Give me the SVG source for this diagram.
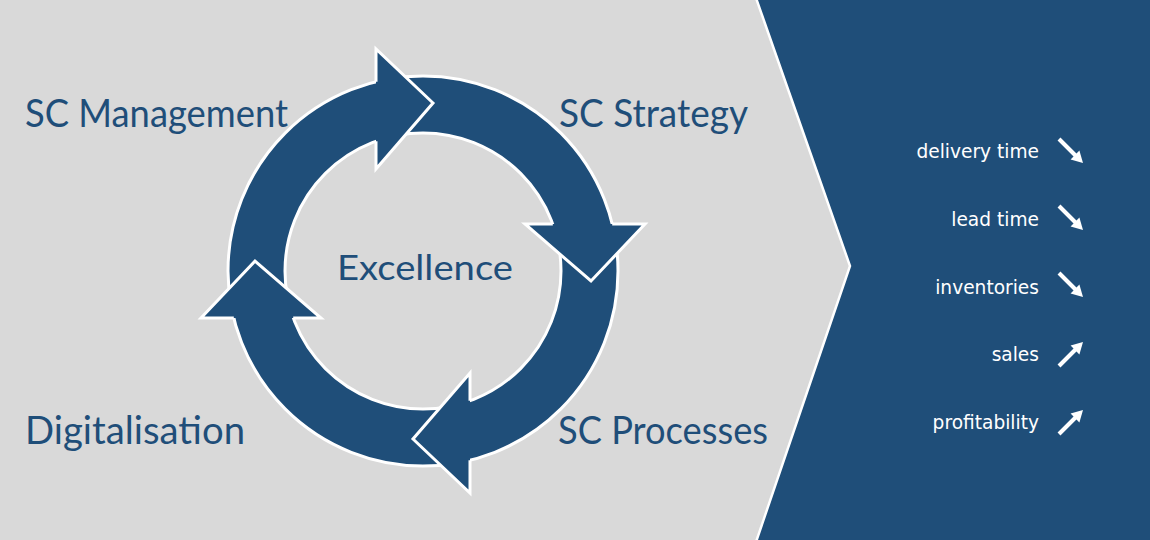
<svg xmlns="http://www.w3.org/2000/svg" xmlns:xlink="http://www.w3.org/1999/xlink" width="1150" height="540" viewBox="0 0 1150 540">
  <style>
    .lbl { font-family: "Lato", "Liberation Sans", sans-serif; font-size: 39px; fill: #1F4E79; }
    .ctr { font-family: "Lato", "Liberation Sans", sans-serif; font-size: 34px; fill: #1F4E79; }
    .kpi { font-family: "DejaVu Sans", "Liberation Sans", sans-serif; font-size: 18.6px; fill: #FFFFFF; text-anchor: end; }
    .blue { fill: #1F4E79; }
    .edge { fill: none; stroke: #FFFFFF; stroke-width: 3; stroke-linejoin: miter; }
  </style>
  <defs>
    <g id="head">
      <path class="blue" d="M376,49 L433,103 L376,169 Z"/>
      <path class="edge" d="M376,81.8 L376,49 L433,103 L376,169 L376,141.2"/>
    </g>
    <g id="down">
      <line x1="0" y1="0" x2="17" y2="17" stroke="#FFFFFF" stroke-width="4"/>
      <path d="M24,24 L20.4,11.6 L11.6,20.4 Z" fill="#FFFFFF"/>
    </g>
  </defs>

  <rect x="0" y="0" width="1150" height="540" fill="#D9D9D9"/>

  <g id="panel">
    <path class="blue" d="M757,0 L1150,0 L1150,540 L757,540 L850,266 Z"/>
    <path d="M756,-2 L850,266 L756,542" fill="none" stroke="#FFFFFF" stroke-width="2.5"/>
  </g>

  <g id="connectors">
    <path class="blue" fill-rule="evenodd" stroke="#FFFFFF" stroke-width="3"
      d="M228,271 A195,195 0 1,0 618,271 A195,195 0 1,0 228,271 Z M285,271 A138,138 0 1,1 561,271 A138,138 0 1,1 285,271 Z"/>
    <use xlink:href="#head"/>
    <use xlink:href="#head" transform="rotate(90 423 271)"/>
    <use xlink:href="#head" transform="rotate(180 423 271)"/>
    <use xlink:href="#head" transform="rotate(270 423 271)"/>
  </g>

  <g id="node-excellence">
    <text class="ctr" x="337" y="280" textLength="176" lengthAdjust="spacingAndGlyphs">Excellence</text>
  </g>
  <g id="node-management">
    <text class="lbl" x="25" y="127" textLength="263" lengthAdjust="spacingAndGlyphs">SC Management</text>
  </g>
  <g id="node-strategy">
    <text class="lbl" x="559" y="127" textLength="189" lengthAdjust="spacingAndGlyphs">SC Strategy</text>
  </g>
  <g id="node-processes">
    <text class="lbl" x="558" y="444" textLength="210" lengthAdjust="spacingAndGlyphs">SC Processes</text>
  </g>
  <g id="node-digitalisation">
    <text class="lbl" x="25" y="444" textLength="220" lengthAdjust="spacingAndGlyphs">Digitalisation</text>
  </g>

  <g id="kpis">
    <text class="kpi" x="1039" y="158">delivery time</text>
    <text class="kpi" x="1039" y="226">lead time</text>
    <text class="kpi" x="1039" y="294">inventories</text>
    <text class="kpi" x="1039" y="361">sales</text>
    <text class="kpi" x="1039" y="429">profitability</text>
    <use xlink:href="#down" transform="translate(1059,139)"/>
    <use xlink:href="#down" transform="translate(1059,206)"/>
    <use xlink:href="#down" transform="translate(1059,273)"/>
    <use xlink:href="#down" transform="translate(1059,366) scale(1,-1)"/>
    <use xlink:href="#down" transform="translate(1059,434) scale(1,-1)"/>
  </g>
</svg>
